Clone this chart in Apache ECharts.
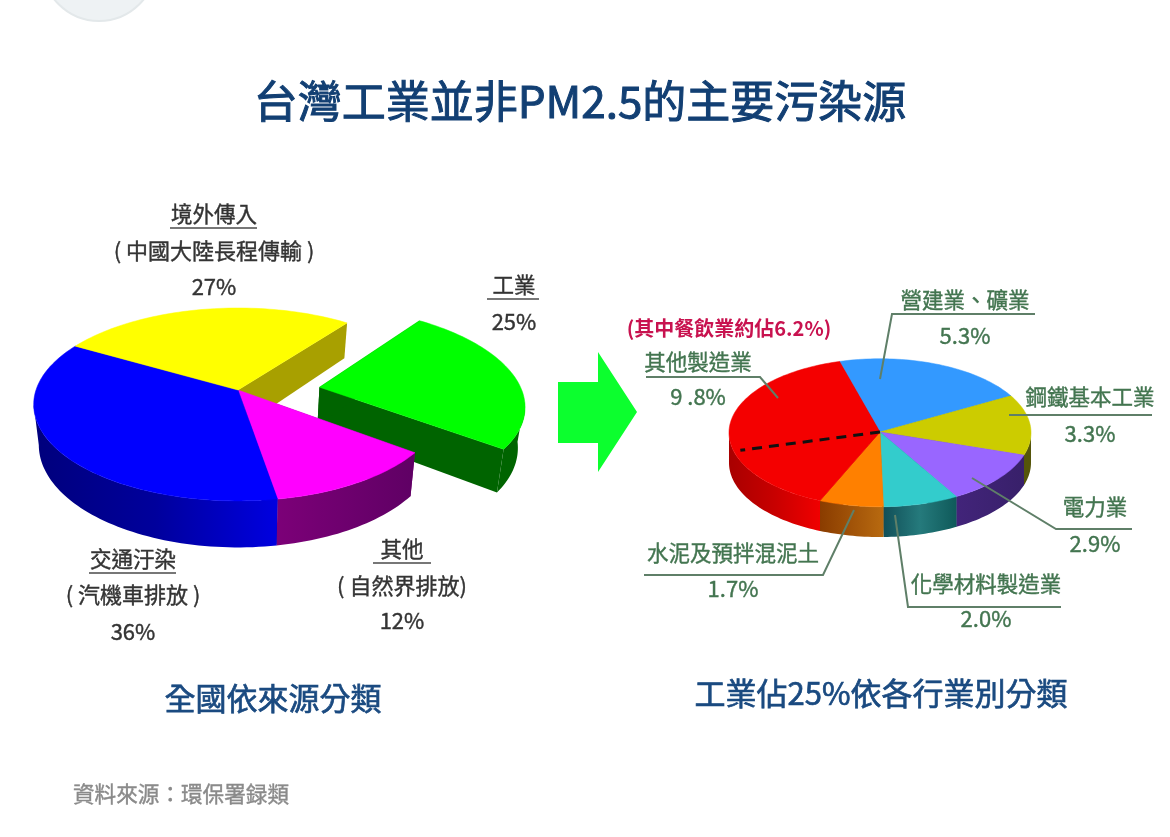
<!DOCTYPE html>
<html><head><meta charset="utf-8">
<style>html,body{margin:0;padding:0;background:#fff}#c{width:1170px;height:837px}</style>
<script src="https://cdn.jsdelivr.net/npm/echarts@6/dist/echarts.min.js"></script>
</head><body><div id="c"></div>
<script>
// ---- data ----
const sourceNames = ['工業', '其他', '交通汙染', '境外傳入'];
const sourceNotes = ['', '( 自然界排放)', '( 汽機車排放 )', '( 中國大陸長程傳輸 )'];
const sourceValues = [25, 12, 36, 27];
const industryNames = ['營建業、礦業', '鋼鐵基本工業', '電力業', '化學材料製造業', '水泥及預拌混泥土', '其他製造業'];
const industryValues = [5.3, 3.3, 2.9, 2.0, 1.7, 9.8];
const industryLabels = ['5.3%', '3.3%', '2.9%', '2.0%', '1.7%', '9 .8%'];
const diningValue = 6.2;
const chartTitle = '台灣工業並非PM2.5的主要污染源';
const leftCaption = '全國依來源分類';
const rightCaption = '工業佔25%依各行業別分類';
const sourceNote = '資料來源：環保署録類';
const diningNote = '(其中餐飲業約佔6.2%)';

// ---- styles ----
const FONT = '"Noto Sans CJK TC","Noto Sans",sans-serif';
const sourceTop = ['#00ff00', '#ff00ff', '#0000ff', '#ffff00'];
const sourceRim = [['#006400', '#006400'], ['#7c0078', '#5f0064'], ['#00007c', '#00009c', '#0000e0'], ['#a8a000', '#a8a000']];
const industryTop = ['#3399ff', '#cccc00', '#9966ff', '#33cccc', '#ff8000', '#f40000'];
const industryRim = [['#1f66aa', '#1f66aa'], ['#55550a', '#55550a'], ['#42247a', '#38206a'], ['#114f58', '#257a7c', '#0f5a5a'], ['#8a3c00', '#b86a10'], ['#a80000', '#c80000', '#f00000']];

// ---- projection of each pie: a flat disc seen in perspective ----
const leftView = {cx: 238, cy: 390, a: 202, b: 94.3, k: 0.15, d: 39.5, m: 0.025, start: 52.8, explode: {0: [0.405, 0.03]}};
const rightView = {cx: 880, cy: 432, a: 151, b: 74, k: 0.01, d: 30, m: 0, start: 105.7, explode: {}};

function project(v, X, Y, z) {
  const w = 1 + v.k * Y;
  return [v.cx + v.a * X / w * (1 - v.m * z), v.cy - v.b * Y / w + v.d * z / w];
}
function arc(v, a0, a1, o, z, r) {
  const pts = [], n = Math.max(2, Math.ceil(Math.abs(a1 - a0) / 1.5));
  for (let i = 0; i <= n; i++) {
    const t = (a0 + (a1 - a0) * i / n) * Math.PI / 180;
    pts.push(project(v, (r || 1) * Math.cos(t) + o[0], (r || 1) * Math.sin(t) + o[1], z));
  }
  return pts;
}
function grad(stops) {
  return {type: 'linear', x: 0, y: 0, x2: 1, y2: 0,
    colorStops: stops.map((c, i) => ({offset: i / (stops.length - 1), color: c}))};
}
function pieSeries(values, view, tops, rims, extra) {
  const total = values.reduce((s, x) => s + x, 0);
  const data = [];
  let acc = 0;
  values.forEach((val, i) => { data.push([val, acc, i]); acc += val; });
  return {
    type: 'custom', coordinateSystem: 'none', silent: true, animation: false, data,
    renderItem(params, api) {
      const val = api.value(0), before = api.value(1), i = api.value(2);
      const a1 = view.start - before / total * 360, a0 = a1 - val / total * 360;
      const o = view.explode[i] || [0, 0];
      const delta = Math.asin(view.k) * 180 / Math.PI;
      const fill = grad(rims[i]), children = [];
      // radial walls
      [a0, a1].forEach(a => {
        const outT = arc(view, a, a, o, 0)[0], outB = arc(view, a, a, o, 1)[0];
        children.push({type: 'polygon', z2: 1, shape: {points: [project(view, o[0], o[1], 0), outT, outB, project(view, o[0], o[1], 1)]},
          style: {fill: rims[i][0]}});
      });
      // outer rim: only the front facing part of the arc
      [-360, 0, 360].forEach(shift => {
        const lo = Math.max(a0, 180 + delta + shift - 360), hi = Math.min(a1, 360 - delta + shift - 360);
        if (hi > lo) {
          const pts = arc(view, lo, hi, o, 0).concat(arc(view, hi, lo, o, 1));
          children.push({type: 'polygon', z2: 2, shape: {points: pts}, style: {fill}});
        }
      });
      // top plate
      children.push({type: 'polygon', z2: 5,
        shape: {points: [project(view, o[0], o[1], 0)].concat(arc(view, a0, a1, o, 0))},
        style: {fill: tops[i], stroke: tops[i], lineWidth: 0.5}});
      if (extra) extra(i, a1, a0, total, children);
      return {type: 'group', children};
    }
  };
}
// dashed divider for the dining share inside 其他製造業
function diningLine(i, a1, a0, total, children) {
  if (i !== industryValues.length - 1) return;
  const ang = a0 + diningValue / total * 360;
  const end = arc(rightView, ang, ang, [0, 0], 0, 0.955)[0];
  children.push({type: 'line', z2: 8,
    shape: {x1: rightView.cx, y1: rightView.cy, x2: end[0], y2: end[1]},
    style: {stroke: '#111', lineWidth: 3, lineDash: [10, 7]}});
}

// ---- text, leaders ----
const DARK = '#333', GREEN = '#437550', NAVY = '#123f73', LINE = '#5f7f68';
function txt(t, x, y, size, fill, weight, extra) {
  return {type: 'text', z: 20, silent: true, x, y,
    style: Object.assign({text: t, fill, font: `${size}px ${FONT}`, align: 'center', verticalAlign: 'middle',
      stroke: fill, lineWidth: weight === undefined ? 0.4 : weight}, extra || {})};
}
function rule(x1, x2, y, color, w) {
  return {type: 'line', z: 20, silent: true, shape: {x1, y1: y, x2, y2: y}, style: {stroke: color, lineWidth: w || 2}};
}
function leader(points) {
  return {type: 'polyline', z: 20, silent: true, shape: {points}, style: {stroke: LINE, lineWidth: 2, fill: null}};
}
const leftAnchors = [
  {x: 514, name: 285, rule: [487, 539, 299], pct: 322},
  {x: 402, name: 549, rule: [373, 431, 563], note: 586, pct: 621},
  {x: 133, name: 559, rule: [89, 176, 573], note: 595, pct: 632},
  {x: 214, name: 214, rule: [170, 257, 228], note: 251, pct: 287}
];
const rightAnchors = [
  {x: 965, name: 300, pct: 336, path: [[1035, 314], [892, 314], [880, 379]]},
  {x: 1090, name: 397, pct: 434, path: [[1152, 415], [1009, 415]]},
  {x: 1095, name: 507, pct: 544, path: [[1132, 529], [1056, 529], [972, 478]]},
  {x: 986, name: 584, pct: 619, path: [[1061, 607], [908, 607], [895, 515]]},
  {x: 733, name: 553, pct: 589, path: [[644, 575], [823, 575], [854, 510]]},
  {x: 698, name: 362, pct: 397, path: [[646, 377], [760, 377], [778, 398]]}
];
const graphics = [
  {type: 'circle', silent: true, shape: {cx: 99, cy: -36, r: 57}, style: {fill: '#eef2f4', stroke: '#e3e8ea', lineWidth: 2}},
  txt(chartTitle, 580, 101, 44, NAVY, 1),
  {type: 'polygon', silent: true, shape: {points: [[558, 382], [598, 382], [598, 352], [637, 412], [598, 472], [598, 443], [558, 443]]}, style: {fill: '#0cff2e'}},
  txt(leftCaption, 273, 698, 31, '#1a4a80', 0.7),
  txt(rightCaption, 881, 693, 31, '#1a4a80', 0.7),
  txt(sourceNote, 181, 794, 21.6, '#8a8a8a', 0.4),
  txt(diningNote, 729, 328, 20, '#c8124f', 0, {font: `bold 20px ${FONT}`})
];
sourceNames.forEach((n, i) => {
  const a = leftAnchors[i];
  graphics.push(txt(n, a.x, a.name, 21.5, DARK), rule(a.rule[0], a.rule[1], a.rule[2], '#777'));
  if (a.note) graphics.push(txt(sourceNotes[i], a.x, a.note, 22, DARK));
  graphics.push(txt(sourceValues[i] + '%', a.x, a.pct, 22, DARK));
});
industryNames.forEach((n, i) => {
  const a = rightAnchors[i];
  graphics.push(txt(n, a.x, a.name, 21.5, GREEN), txt(industryLabels[i], a.x, a.pct, 22, GREEN), leader(a.path));
});

const chart = echarts.init(document.getElementById('c'), null, {renderer: 'canvas'});
chart.setOption({
  backgroundColor: '#fff',
  animation: false,
  graphic: {elements: graphics},
  series: [
    pieSeries(sourceValues, leftView, sourceTop, sourceRim),
    pieSeries(industryValues, rightView, industryTop, industryRim, diningLine)
  ]
});
</script></body></html>
